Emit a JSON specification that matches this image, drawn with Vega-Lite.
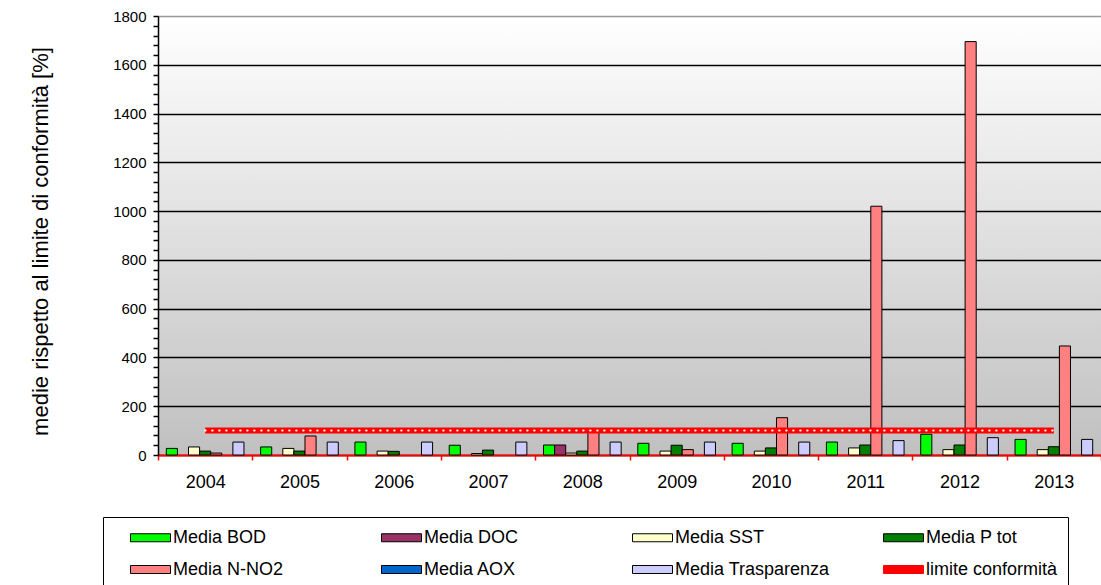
{
  "$schema": "https://vega.github.io/schema/vega-lite/v6.json",
  "width": 943,
  "height": 439,
  "autosize": "none",
  "padding": {"left": 158, "top": 16, "right": 0, "bottom": 130},
  "background": "white",
  "config": {
    "font": "Liberation Sans",
    "view": {
      "stroke": null,
      "fill": {"gradient": "linear", "x1": 0, "y1": 0, "x2": 0, "y2": 1, "stops": [{"offset": 0, "color": "#ffffff"}, {"offset": 1, "color": "#c0c0c0"}]}
    }
  },
  "datasets": {
    "bars": [
      {"anno": "2004", "serie": "Media BOD", "valore": 27},
      {"anno": "2004", "serie": "Media SST", "valore": 33},
      {"anno": "2004", "serie": "Media P tot", "valore": 16},
      {"anno": "2004", "serie": "Media N-NO2", "valore": 8},
      {"anno": "2004", "serie": "Media Trasparenza", "valore": 53},
      {"anno": "2005", "serie": "Media BOD", "valore": 33},
      {"anno": "2005", "serie": "Media SST", "valore": 27},
      {"anno": "2005", "serie": "Media P tot", "valore": 16},
      {"anno": "2005", "serie": "Media N-NO2", "valore": 78},
      {"anno": "2005", "serie": "Media Trasparenza", "valore": 53},
      {"anno": "2006", "serie": "Media BOD", "valore": 53},
      {"anno": "2006", "serie": "Media SST", "valore": 16},
      {"anno": "2006", "serie": "Media P tot", "valore": 15},
      {"anno": "2006", "serie": "Media Trasparenza", "valore": 53},
      {"anno": "2007", "serie": "Media BOD", "valore": 40},
      {"anno": "2007", "serie": "Media SST", "valore": 6},
      {"anno": "2007", "serie": "Media P tot", "valore": 20},
      {"anno": "2007", "serie": "Media Trasparenza", "valore": 53},
      {"anno": "2008", "serie": "Media BOD", "valore": 41},
      {"anno": "2008", "serie": "Media DOC", "valore": 41},
      {"anno": "2008", "serie": "Media SST", "valore": 8},
      {"anno": "2008", "serie": "Media P tot", "valore": 16},
      {"anno": "2008", "serie": "Media N-NO2", "valore": 95},
      {"anno": "2008", "serie": "Media Trasparenza", "valore": 53},
      {"anno": "2009", "serie": "Media BOD", "valore": 48},
      {"anno": "2009", "serie": "Media SST", "valore": 16},
      {"anno": "2009", "serie": "Media P tot", "valore": 40},
      {"anno": "2009", "serie": "Media N-NO2", "valore": 22},
      {"anno": "2009", "serie": "Media Trasparenza", "valore": 53},
      {"anno": "2010", "serie": "Media BOD", "valore": 48},
      {"anno": "2010", "serie": "Media SST", "valore": 16},
      {"anno": "2010", "serie": "Media P tot", "valore": 29},
      {"anno": "2010", "serie": "Media N-NO2", "valore": 153},
      {"anno": "2010", "serie": "Media Trasparenza", "valore": 53},
      {"anno": "2011", "serie": "Media BOD", "valore": 53},
      {"anno": "2011", "serie": "Media SST", "valore": 29},
      {"anno": "2011", "serie": "Media P tot", "valore": 41},
      {"anno": "2011", "serie": "Media N-NO2", "valore": 1020},
      {"anno": "2011", "serie": "Media Trasparenza", "valore": 59},
      {"anno": "2012", "serie": "Media BOD", "valore": 85},
      {"anno": "2012", "serie": "Media SST", "valore": 22},
      {"anno": "2012", "serie": "Media P tot", "valore": 41},
      {"anno": "2012", "serie": "Media N-NO2", "valore": 1695},
      {"anno": "2012", "serie": "Media Trasparenza", "valore": 71},
      {"anno": "2013", "serie": "Media BOD", "valore": 64},
      {"anno": "2013", "serie": "Media SST", "valore": 22},
      {"anno": "2013", "serie": "Media P tot", "valore": 34},
      {"anno": "2013", "serie": "Media N-NO2", "valore": 447},
      {"anno": "2013", "serie": "Media Trasparenza", "valore": 64}
    ],
    "limite": [
      {"anno": "2004", "valore": 100},
      {"anno": "2005", "valore": 100},
      {"anno": "2006", "valore": 100},
      {"anno": "2007", "valore": 100},
      {"anno": "2008", "valore": 100},
      {"anno": "2009", "valore": 100},
      {"anno": "2010", "valore": 100},
      {"anno": "2011", "valore": 100},
      {"anno": "2012", "valore": 100},
      {"anno": "2013", "valore": 100}
    ]
  },
  "encoding": {
    "x": {
      "field": "anno", "type": "ordinal",
      "scale": {"paddingInner": 0, "paddingOuter": 0},
      "axis": {"title": null, "labelAngle": 0, "labelFontSize": 18, "labelColor": "black", "labelPadding": 13, "domainColor": "#ff0000", "domainWidth": 2, "tickColor": "#ff0000", "tickSize": 5, "tickWidth": 1.5, "tickBand": "extent", "grid": false}
    },
    "y": {
      "field": "valore", "type": "quantitative",
      "scale": {"domain": [0, 1800], "nice": false},
      "axis": {
        "title": "medie rispetto al limite di conformità [%]",
        "titleFontSize": 22, "titleFontWeight": "normal", "titleColor": "black",
        "titleAngle": -90, "titleX": -118, "titleY": 225, "titleAlign": "center", "titleBaseline": "middle",
        "values": [0,40,80,120,160,200,240,280,320,360,400,440,480,520,560,600,640,680,720,760,800,840,880,920,960,1000,1040,1080,1120,1160,1200,1240,1280,1320,1360,1400,1440,1480,1520,1560,1600,1640,1680,1720,1760,1800],
        "format": "d",
        "labelExpr": "datum.value % 200 === 0 ? datum.label : ''",
        "labelOverlap": false, "labelFlush": false, "labelBound": false,
        "labelFontSize": 15, "labelColor": "black", "labelPadding": 7,
        "domainColor": "black", "domainWidth": 1.5,
        "tickColor": "black", "tickSize": 5, "tickWidth": 1.5,
        "grid": true,
        "gridColor": {"condition": {"test": "datum.value === 1800", "value": "#999999"}, "value": "black"},
        "gridOpacity": {"condition": {"test": "datum.value % 200 === 0", "value": 1}, "value": 0},
        "gridWidth": 1.5
      }
    }
  },
  "layer": [
    {
      "data": {"name": "bars"},
      "mark": {"type": "bar", "stroke": "black", "strokeWidth": 1},
      "encoding": {
        "xOffset": {
          "field": "serie", "type": "nominal",
          "scale": {"domain": ["Media BOD", "Media DOC", "Media SST", "Media P tot", "Media N-NO2", "Media AOX", "Media Trasparenza"], "paddingInner": 0, "paddingOuter": 0.75}
        },
        "color": {
          "field": "serie", "type": "nominal",
          "scale": {
            "domain": ["Media BOD", "Media DOC", "Media SST", "Media P tot", "Media N-NO2", "Media AOX", "Media Trasparenza", "limite conformità"],
            "range": ["#00ff00", "#993366", "#ffffcc", "#008000", "#ff8080", "#0066cc", "#ccccff", "#ff0000"]
          },
          "legend": {
            "orient": "none", "legendX": -55, "legendY": 501,
            "direction": "horizontal", "columns": 4, "title": null,
            "symbolType": "M-2,-0.4H2V0.4H-2Z", "symbolSize": 400,
            "symbolStrokeColor": "black", "symbolStrokeWidth": 1, "symbolOpacity": 1,
            "symbolOffset": 27, "labelOffset": 12,
            "labelFontSize": 18, "labelColor": "black", "labelLimit": 300,
            "columnPadding": 36, "rowPadding": 12, "gridAlign": "all",
            "padding": 10, "strokeColor": "black", "fillColor": "white",
            "encode": {"symbols": {"update": {"stroke": {"signal": "datum.value === 'limite conformità' ? '#ff0000' : 'black'"}}}}
          }
        }
      }
    },
    {
      "data": {"name": "limite"},
      "mark": {"type": "line", "color": "#ff0000", "strokeWidth": 6}
    },
    {
      "data": {"name": "limite"},
      "mark": {"type": "line", "color": "#ffffff", "strokeWidth": 2, "strokeDash": [0.5, 6.5], "strokeCap": "round"}
    }
  ]
}
